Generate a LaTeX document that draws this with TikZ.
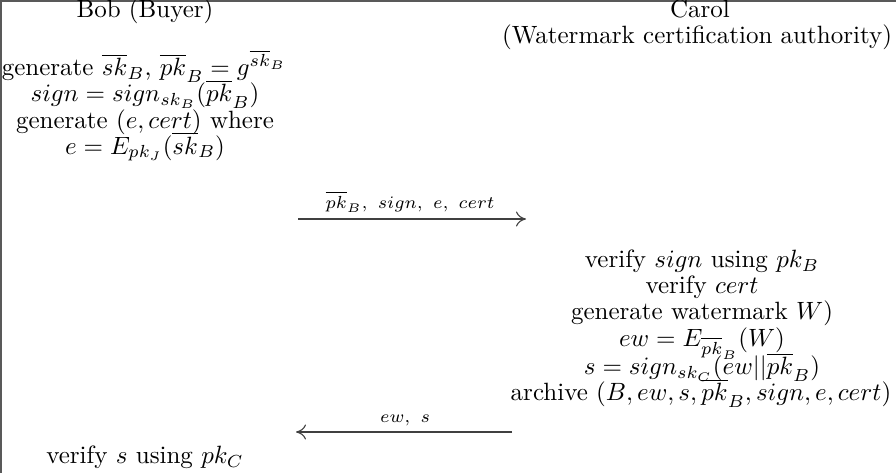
\documentclass[tikz,border=0pt]{standalone}
\usetikzlibrary{arrows.meta}
\begin{document}
\begin{tikzpicture}[x=0.4pt,y=-0.4pt,
  txt/.style={anchor=base,inner sep=0pt},
  lbl/.style={anchor=base,inner sep=0pt,font=\scriptsize},
  msg/.style={-{To[length=4pt,width=6pt]},line width=0.45pt,black!75},
  frame/.style={line width=0.7pt,black!65}]
\useasboundingbox (0,0) rectangle (896,473);
% frame
\coordinate (ftl) at (1,1);
\coordinate (ftr) at (896,1);
\coordinate (fbl) at (1,473);
\draw[frame] (ftr) -- (ftl) -- (fbl);
% Bob column
\node[txt] (bob) at (145,17) {Bob (Buyer)};
\node[txt] (b1) at (144,76) {generate $\overline{sk}_B$, $\overline{pk}_B = g^{\overline{sk}_B}$};
\node[txt] (b2) at (145,102) {$sign = sign_{sk_B}(\overline{pk}_B)$};
\node[txt] (b3) at (145,128) {generate $(e, cert)$ where};
\node[txt] (b4) at (145,154) {$e = E_{pk_J}(\overline{sk}_B)$};
\node[txt] (b5) at (145,464) {verify $s$ using $pk_C$};
% Carol column
\node[txt] (carol) at (700,17) {Carol};
\node[txt] (carol2) at (697,44) {(Watermark certification authority)};
\node[txt] (c1) at (702,268) {verify $sign$ using $pk_B$};
\node[txt] (c2) at (702,293) {verify $cert$};
\node[txt] (c3) at (702,319) {generate watermark $W$)};
\node[txt] (c4) at (702,346) {$ew = E_{\overline{pk}_B}(W)$};
\node[txt] (c5) at (702,375) {$s = sign_{sk_C}(ew||\overline{pk}_B)$};
\node[txt] (c6) at (701,401) {archive $(B, ew, s, \overline{pk}_B, sign, e, cert)$};
% messages
\coordinate (m1s) at (298,219);
\coordinate (m1e) at (526,219);
\draw[msg] (m1s) -- (m1e);
\node[lbl] (l1) at (410,208) {$\overline{pk}_B,\ sign,\ e,\ cert$};
\coordinate (m2s) at (512,432);
\coordinate (m2e) at (296,432);
\draw[msg] (m2s) -- (m2e);
\node[lbl] (l2) at (405,422) {$ew,\ s$};
\end{tikzpicture}
\end{document}
